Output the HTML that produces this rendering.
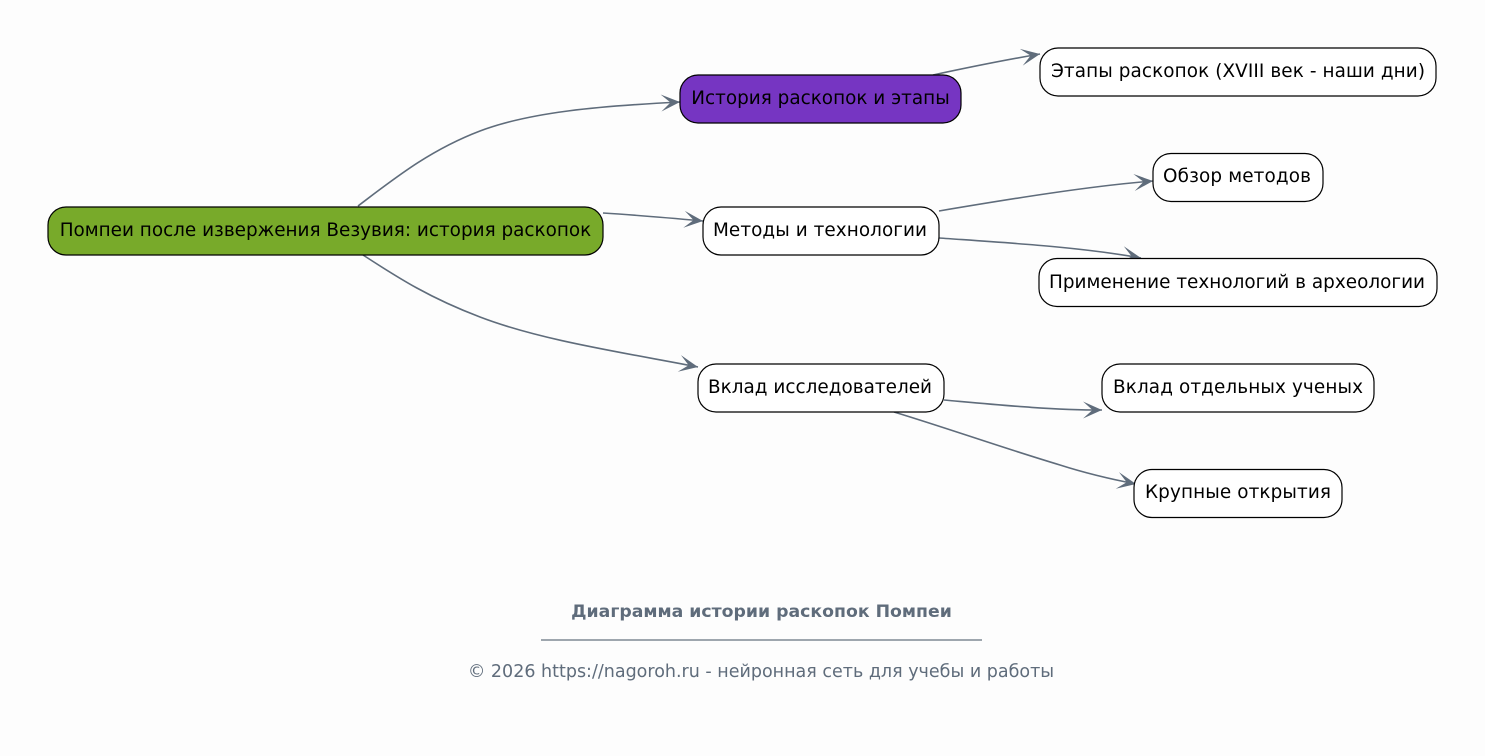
<!DOCTYPE html>
<html><head><meta charset="utf-8"><style>
html,body{margin:0;padding:0;background:#fdfdfd}
svg{display:block}
text{font-family:"DejaVu Sans",sans-serif}
.n{font-size:18.4px;fill:#000;text-anchor:middle}
.b{stroke:#000;stroke-width:1.2;fill:#fff}
.e{fill:none;stroke:#5f6c7b;stroke-width:1.6}
</style></head><body>
<svg width="1485" height="756" viewBox="0 0 1485 756" xmlns="http://www.w3.org/2000/svg">
<defs>
<marker id="m" markerUnits="userSpaceOnUse" markerWidth="24" markerHeight="20" refX="20" refY="10" orient="auto">
<path d="M1 1.500 L20 10 L1 18.500 L10.500 10 Z" fill="#5f6c7b"/>
</marker>
</defs>
<rect width="1485" height="756" fill="#fdfdfd"/>
<path class="e" marker-end="url(#m)" d="M358 206 C395 178 430 150 480 131 C530 112 600 106 680 102"/>
<path class="e" marker-end="url(#m)" d="M603 213 C635 215 670 218 703 221"/>
<path class="e" marker-end="url(#m)" d="M363 255 C400 279 430 298 480 317 C540 340 620 352 698 367"/>
<path class="e" marker-end="url(#m)" d="M933 75 C970 67 1005 60 1040 54"/>
<path class="e" marker-end="url(#m)" d="M939 211 C1010 199 1090 186 1153 181"/>
<path class="e" marker-end="url(#m)" d="M939 238 C1010 243 1080 247 1141 258"/>
<path class="e" marker-end="url(#m)" d="M944 400 C1000 405 1050 410 1102 410"/>
<path class="e" marker-end="url(#m)" d="M894 412 C950 429 1000 447 1060 465 C1085 473 1110 479 1136 484"/>
<rect x="48" y="207" width="555" height="48" rx="18" ry="18" class="b" style="fill:#78aa2a"/>
<text class="n" x="325.500" y="236">Помпеи после извержения Везувия: история раскопок</text>
<rect x="680" y="75" width="281" height="48" rx="18" ry="18" class="b" style="fill:#7635c2"/>
<text class="n" x="820.500" y="104">История раскопок и этапы</text>
<rect x="703" y="207" width="236" height="48" rx="18" ry="18" class="b"/>
<text class="n" x="820" y="236" textLength="214">Методы и технологии</text>
<rect x="698" y="364" width="246" height="48" rx="18" ry="18" class="b"/>
<text class="n" x="820" y="393" textLength="224">Вклад исследователей</text>
<rect x="1040" y="48" width="396" height="48" rx="18" ry="18" class="b"/>
<text class="n" x="1238" y="77" textLength="374">Этапы раскопок (XVIII век - наши дни)</text>
<rect x="1153" y="153.500" width="170" height="48" rx="18" ry="18" class="b"/>
<text class="n" x="1237" y="182" textLength="148">Обзор методов</text>
<rect x="1039" y="258.500" width="398" height="48" rx="18" ry="18" class="b"/>
<text class="n" x="1237" y="288" textLength="376">Применение технологий в археологии</text>
<rect x="1102" y="364" width="272" height="48" rx="18" ry="18" class="b"/>
<text class="n" x="1238" y="393" textLength="250">Вклад отдельных ученых</text>
<rect x="1134" y="469.500" width="208" height="48" rx="18" ry="18" class="b"/>
<text class="n" x="1238" y="498" textLength="186">Крупные открытия</text>
<text x="761.500" y="617" text-anchor="middle" font-size="17.3" font-weight="bold" fill="#5f6c7b">Диаграмма истории раскопок Помпеи</text>
<rect x="541" y="639.400" width="441" height="1.200" fill="#5f6c7b"/>
<text x="761" y="677" text-anchor="middle" font-size="17.5" fill="#5f6c7b">© 2026 https://nagoroh.ru - нейронная сеть для учебы и работы</text>
</svg>
</body></html>
